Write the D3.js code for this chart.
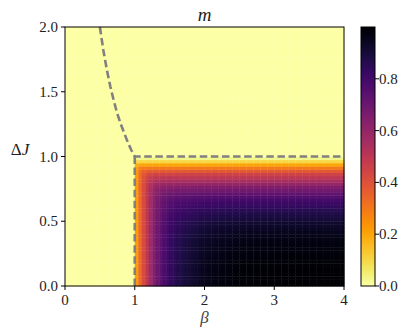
<!DOCTYPE html>
<html>
<head>
<meta charset="utf-8">
<script src="https://cdn.jsdelivr.net/npm/d3@7"></script>
<style>
  body { margin: 0; background: #fff; }
</style>
</head>
<body>
<div id="chart"></div>
<script>
const mAlongBeta = [
    0.22, 0.33, 0.42, 0.50, 0.57, 0.64, 0.70, 0.74, 0.78, 0.81,
    0.84, 0.86, 0.875, 0.89, 0.90, 0.91, 0.92, 0.93, 0.94, 0.95,
    0.955, 0.96, 0.965, 0.97, 0.973, 0.976, 0.979, 0.982, 0.984, 0.986,
    0.988, 0.99, 0.991, 0.992, 0.993, 0.994, 0.995, 0.995, 0.996, 0.996,
    0.997, 0.997, 0.997, 0.998, 0.998, 0.998, 0.998, 0.999, 0.999, 0.999,
    0.999, 0.999, 0.999, 1, 1, 1, 1, 1, 1, 1
];
// m (β ≈ 4), rows ΔJ = 0.0125 … 0.9875 (step 0.025)
const mAlongDJ = [
    1.0, 0.999, 0.998, 0.997, 0.996, 0.994, 0.992, 0.99, 0.987, 0.984,
    0.98, 0.977, 0.975, 0.97, 0.965, 0.96, 0.95, 0.94, 0.93, 0.92,
    0.905, 0.89, 0.875, 0.86, 0.84, 0.82, 0.795, 0.765, 0.73, 0.69,
    0.65, 0.60, 0.55, 0.50, 0.45, 0.38, 0.30, 0.20, 0.10, 0.03
];
// dashed phase boundary
const curveBeta = [0.5, 0.55, 0.6, 0.65, 0.7, 0.75, 0.8, 0.85, 0.9, 0.95, 1.0, 4.0];
const curveDJ = [2.0, 1.82, 1.67, 1.54, 1.43, 1.33, 1.25, 1.18, 1.11, 1.05, 1.0, 1.0];
const wallBeta = [1.0, 1.0];
const wallDJ = [0.0, 1.0];

const xTicks = [0, 1, 2, 3, 4];
const yTicks = [0.0, 0.5, 1.0, 1.5, 2.0];
const cTicks = [0.0, 0.2, 0.4, 0.6, 0.8];

const W = 409,
    H = 335,
    pLeft = 65, pRight = 344, pTop = 27, pBottom = 286,
    nCol = 80, nRow = 80,
    betaStep = 4 / nCol, djStep = 2 / nRow,
    offCol = nCol - mAlongBeta.length,
    serif = "Liberation Serif";

const x = d3.scaleLinear().domain([0, 4]).range([pLeft, pRight]),
    y = d3.scaleLinear().domain([0, 2]).range([pBottom, pTop]),
    color = (v) => d3.interpolateInferno(1 - v);

const svg = d3.select("#chart").append("svg").
    attr("width", W).
    attr("height", H);

// cells: row and column readings joined with a soft minimum (rounds the corner)
const softMin = (a, b) => (a <= 0 || b <= 0 ? 0 : Math.pow(Math.pow(a, -6) + Math.pow(b, -6) - 1, -1 / 6));
const cells = [];
for (let j = 0; j < nRow; j++) {
    for (let i = 0; i < nCol; i++) {
        const a = i < offCol ? 0 : mAlongBeta[i - offCol],
            b = j < mAlongDJ.length ? mAlongDJ[j] : 0;
        cells.push({i, j, v: softMin(a, b)});
    }
}

svg.append("g").
    selectAll("rect").
    data(cells).
    enter().
    append("rect").
    attr("x", (d) => x(d.i * betaStep)).
    attr("y", (d) => y((d.j + 1) * djStep)).
    attr("width", x(betaStep) - x(0) + 0.4).
    attr("height", y(0) - y(djStep) + 0.4).
    attr("fill", (d) => color(d.v));

const line = d3.line().
    x((d) => x(d[0])).
    y((d) => y(d[1]));

[[curveBeta, curveDJ], [wallBeta, wallDJ]].forEach(([bs, ds]) => {
    svg.append("path").
        attr("d", line(bs.map((b, k) => [b, ds[k]]))).
        attr("fill", "none").
        attr("stroke", "#808080").
        attr("stroke-width", 2.6).
        attr("stroke-dasharray", "7.5,3.6");
});

// frame
svg.append("rect").
    attr("x", pLeft).
    attr("y", pTop).
    attr("width", pRight - pLeft).
    attr("height", pBottom - pTop).
    attr("fill", "none").
    attr("stroke", "#000").
    attr("stroke-width", 1);

const xg = svg.append("g");
xTicks.forEach((t) => {
    xg.append("line").
        attr("x1", x(t)).attr("x2", x(t)).
        attr("y1", pBottom).attr("y2", pBottom + 4).
        attr("stroke", "#000");
    xg.append("text").
        attr("x", x(t)).
        attr("y", pBottom + 19).
        attr("text-anchor", "middle").
        attr("font-family", serif).
        attr("font-size", 15).
        attr("fill", "#222").
        text(t);
});

const yg = svg.append("g");
yTicks.forEach((t) => {
    yg.append("line").
        attr("x1", pLeft - 4).attr("x2", pLeft).
        attr("y1", y(t)).attr("y2", y(t)).
        attr("stroke", "#000");
    yg.append("text").
        attr("x", pLeft - 7).
        attr("y", y(t) + 5).
        attr("text-anchor", "end").
        attr("font-family", serif).
        attr("font-size", 15).
        attr("fill", "#222").
        text(t.toFixed(1));
});

svg.append("text").
    attr("x", (pLeft + pRight) / 2).
    attr("y", 21).
    attr("text-anchor", "middle").
    attr("font-family", serif).
    attr("font-size", 19).
    attr("font-style", "italic").
    attr("fill", "#222").
    text("m");

svg.append("text").
    attr("x", (pLeft + pRight) / 2).
    attr("y", 323).
    attr("text-anchor", "middle").
    attr("font-family", serif).
    attr("font-size", 17).
    attr("font-style", "italic").
    attr("fill", "#444").
    text("β");

const yl = svg.append("text").
    attr("x", 20).
    attr("y", 155).
    attr("text-anchor", "middle").
    attr("font-family", serif).
    attr("font-size", 17).
    attr("fill", "#222");
yl.append("tspan").text("Δ");
yl.append("tspan").attr("font-style", "italic").text("J");

// colorbar
const cx = 361, cw = 14,
    cy = d3.scaleLinear().domain([0, 1]).range([pBottom, pTop]);

const grad = svg.append("defs").
    append("linearGradient").
    attr("id", "cbar").
    attr("x1", 0).attr("y1", 1).
    attr("x2", 0).attr("y2", 0);
d3.range(0, 1.0001, 0.02).forEach((s) => {
    grad.append("stop").
        attr("offset", s).
        attr("stop-color", color(s));
});

svg.append("rect").
    attr("x", cx).
    attr("y", pTop).
    attr("width", cw).
    attr("height", pBottom - pTop).
    attr("fill", "url(#cbar)").
    attr("stroke", "#000").
    attr("stroke-width", 1);

cTicks.forEach((t) => {
    svg.append("line").
        attr("x1", cx + cw).attr("x2", cx + cw + 4).
        attr("y1", cy(t)).attr("y2", cy(t)).
        attr("stroke", "#000");
    svg.append("text").
        attr("x", cx + cw + 4).
        attr("y", cy(t) + 5).
        attr("font-family", serif).
        attr("font-size", 15).
        attr("fill", "#222").
        text(t.toFixed(1));
});
</script>
</body>
</html>
